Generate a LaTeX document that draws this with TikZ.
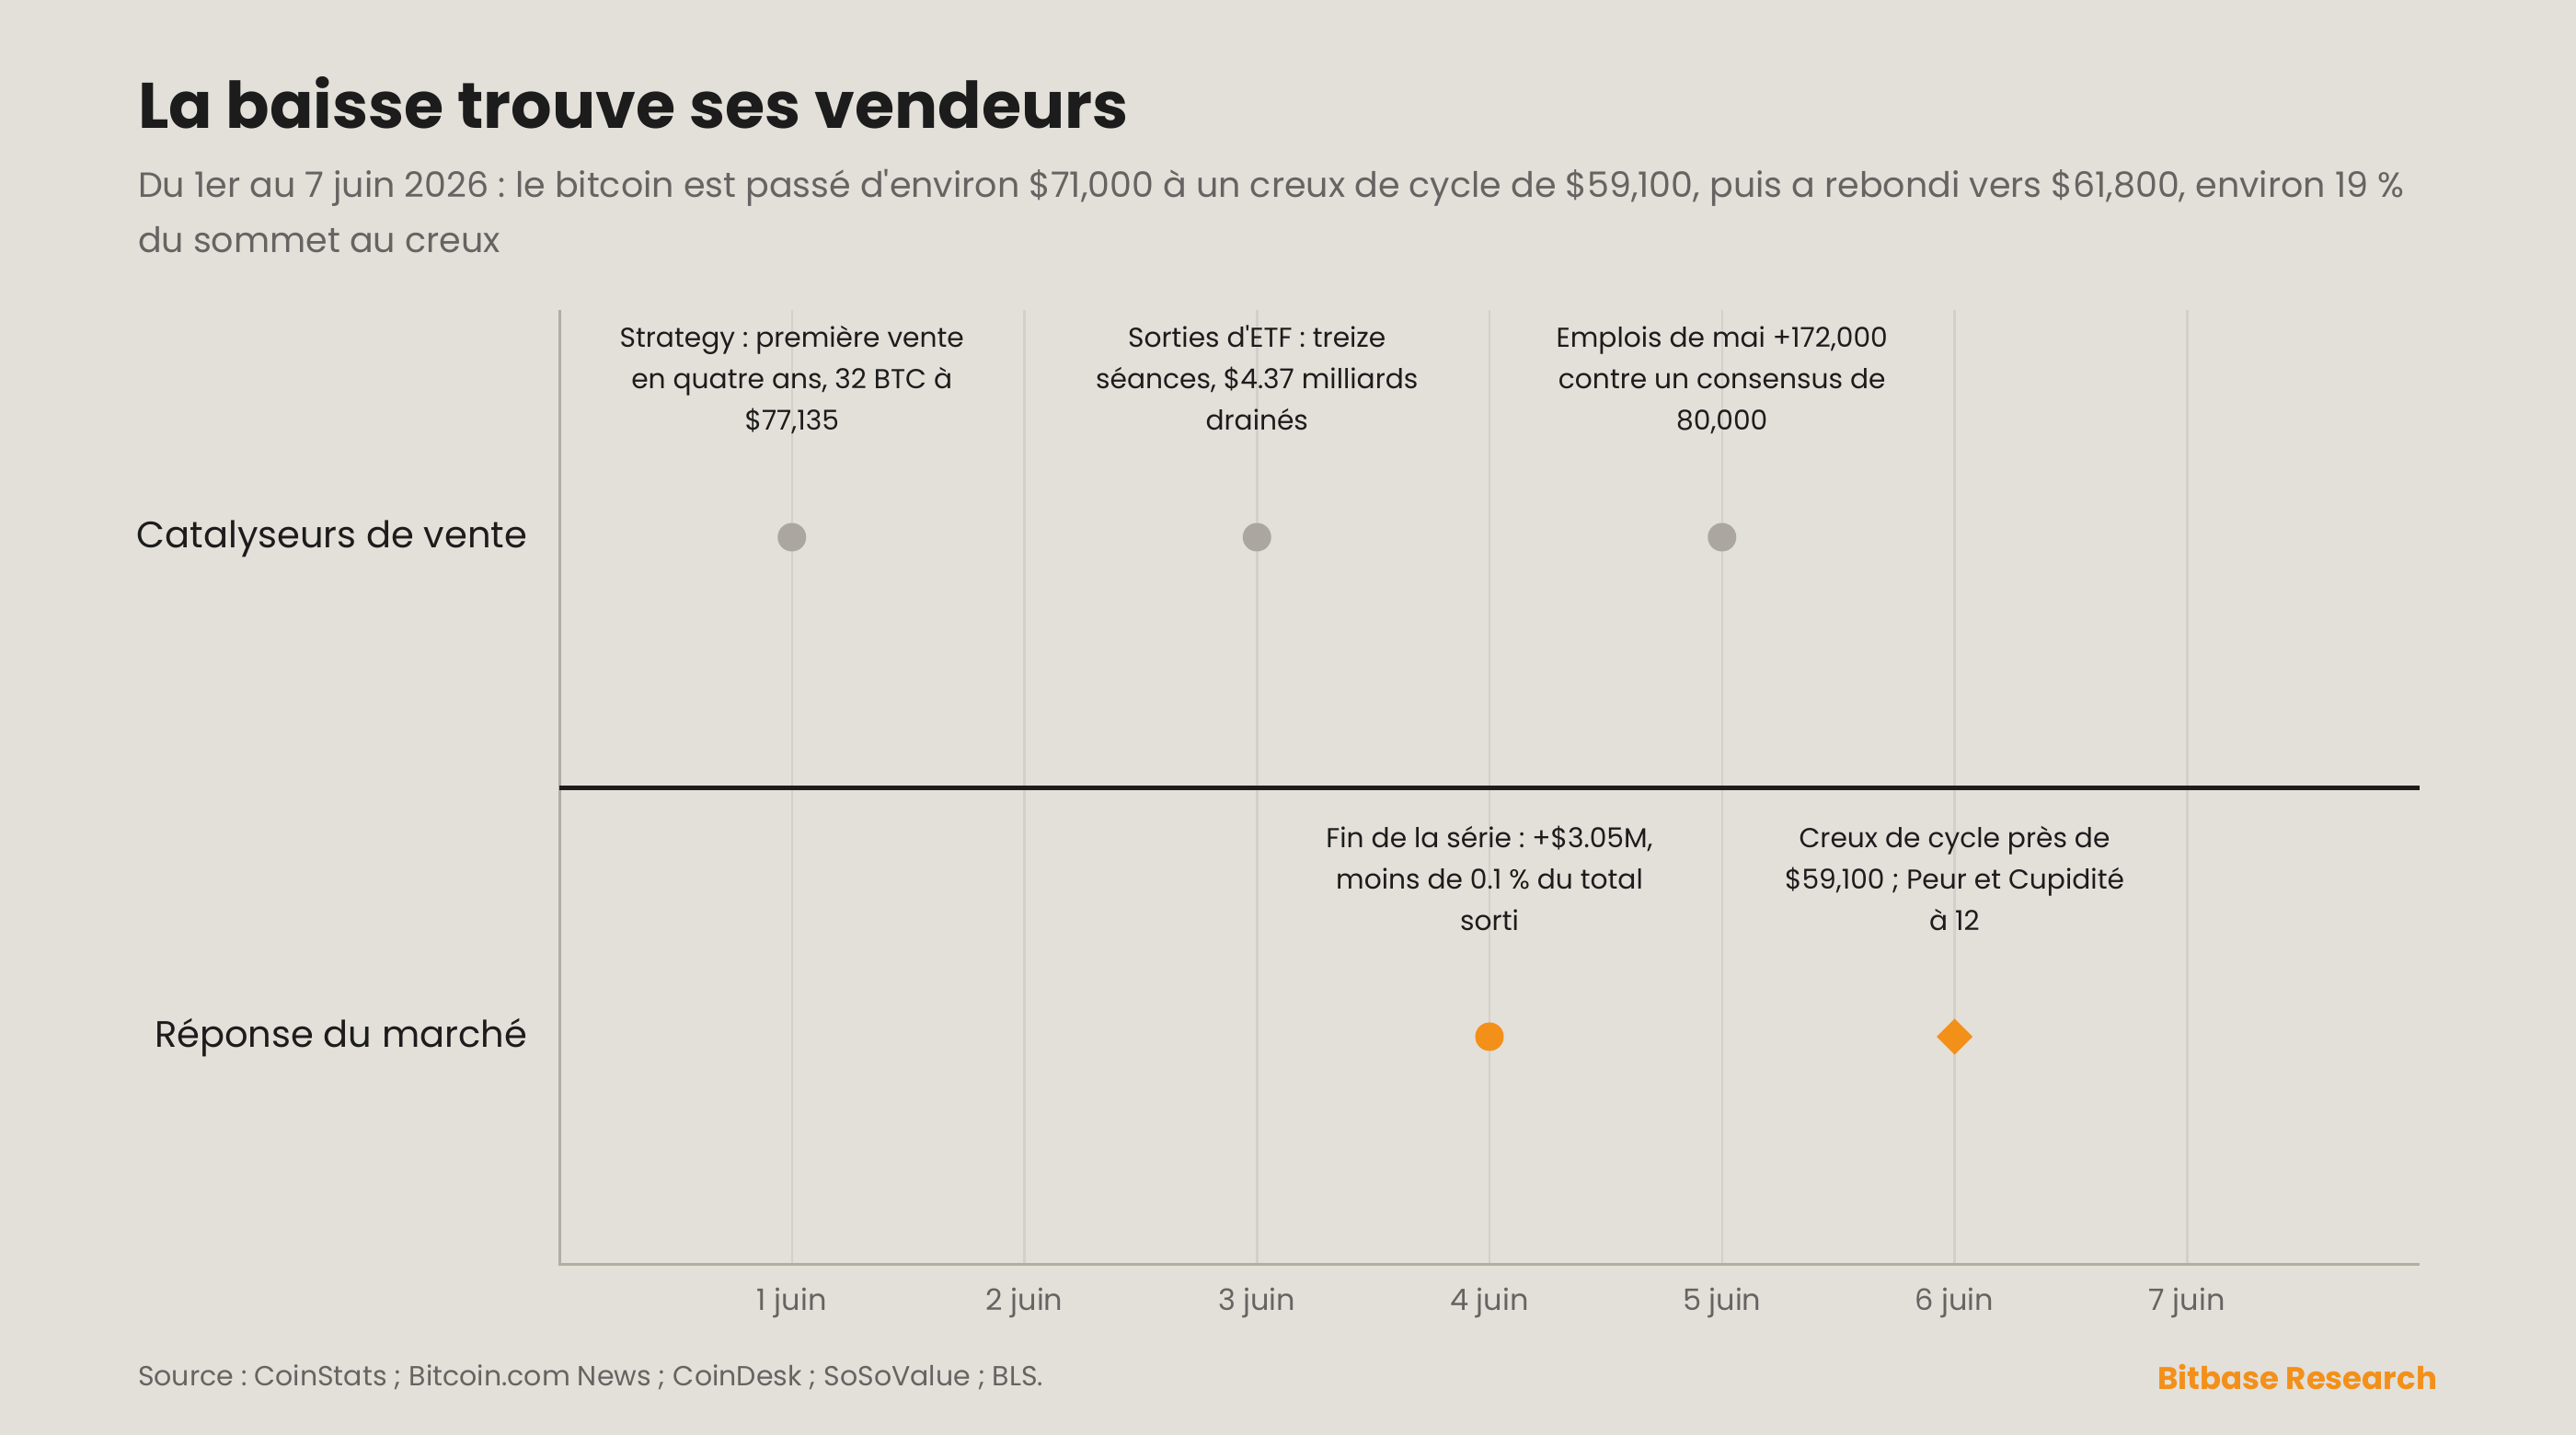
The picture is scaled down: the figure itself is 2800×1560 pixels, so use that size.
\documentclass[tikz,border=0pt]{standalone}
\usepackage{fontspec}
\setmainfont{Poppins}
\frenchspacing
\newcommand*{\titlefont}{\fontsize{70}{84}\selectfont\bfseries}
\newcommand*{\subfont}{\fontsize{38}{60}\selectfont}
\newcommand*{\rowfont}{\fontsize{40}{48}\selectfont}
\newcommand*{\eventfont}{\fontsize{29.7}{45}\selectfont}
\newcommand*{\tickfont}{\fontsize{32}{40}\selectfont}
\newcommand*{\notefont}{\fontsize{30}{38}\selectfont}
\newcommand*{\brandfont}{\fontsize{34}{40}\selectfont\bfseries}
\definecolor{paper}{HTML}{E3DFD9}
\definecolor{ink}{HTML}{1C1C1C}
\definecolor{subgrey}{HTML}{666462}
\definecolor{gridgrey}{HTML}{D4CFC9}
\definecolor{axisgrey}{HTML}{B3ADA3}
\definecolor{dotgrey}{HTML}{ABA6A0}
\definecolor{bitorange}{HTML}{F39019}
\usetikzlibrary{shapes.geometric}
\usetikzlibrary{positioning}
\tikzstyle{chart}=[x=1pt, y=1pt, inner sep=0pt, outer sep=0pt]
\tikzstyle{gridline}=[draw=gridgrey, line width=2.5pt]
\tikzstyle{axisline}=[draw=axisgrey, line width=3pt]
\tikzstyle{rowlabel}=[anchor=base east, text=ink, font=\rowfont]
\tikzstyle{evtext}=[anchor=base, align=center, text=ink, font=\eventfont]
\tikzstyle{ticklabel}=[anchor=base, text=subgrey, font=\tickfont]
\tikzstyle{catdot}=[circle, fill=dotgrey, minimum size=31pt]
\tikzstyle{mktdot}=[circle, fill=bitorange, minimum size=31pt]
\tikzstyle{mktdiamond}=[diamond, fill=bitorange, minimum width=39pt, minimum height=39pt]

\begin{document}
\begin{tikzpicture}[chart]
    \path [use as bounding box] (0,0) rectangle (2800,1560);
    \fill [paper] (0,0) rectangle (2800,1560);
    % heading (multi-line nodes sit on their last baseline)
    \node [anchor=base west, text=ink, font=\titlefont] (title) at (150,1420) {La baisse trouve ses vendeurs};
    \node [anchor=base west, align=left, text=subgrey, font=\subfont] (subtitle) at (150,1285)
        {Du 1er au 7 juin 2026 : le bitcoin est passé d\textquotesingle environ \$71,000 à un creux de cycle de \$59,100, puis a rebondi vers \$61,800, environ 19 \%\\du sommet au creux};
    % days
    \draw [gridline] (860.75,185) -- (860.75,1223);
    \draw [gridline] (1113.5,185) -- (1113.5,1223);
    \draw [gridline] (1366.25,185) -- (1366.25,1223);
    \draw [gridline] (1619,185) -- (1619,1223);
    \draw [gridline] (1871.75,185) -- (1871.75,1223);
    \draw [gridline] (2124.5,185) -- (2124.5,1223);
    \draw [gridline] (2377.25,185) -- (2377.25,1223);
    \draw [axisline] (608,1223) -- (608,185) -- (2630,185);
    \draw [ink, line width=5pt] (608,703.5) -- (2630,703.5);
    \node [ticklabel] (d1) at (860.75,135) {1 juin};
    \node [ticklabel] (d2) at (1113.5,135) {2 juin};
    \node [ticklabel] (d3) at (1366.25,135) {3 juin};
    \node [ticklabel] (d4) at (1619,135) {4 juin};
    \node [ticklabel] (d5) at (1871.75,135) {5 juin};
    \node [ticklabel] (d6) at (2124.5,135) {6 juin};
    \node [ticklabel] (d7) at (2377.25,135) {7 juin};
    % rows
    \node [rowlabel] (catrow) at (573,964) {Catalyseurs de vente};
    \node [rowlabel] (mktrow) at (573,421) {Réponse du marché};
    % sell catalysts
    \node [catdot] (strategy) at (860.75,976) {};
    \node [catdot] (etf) at (1366.25,976) {};
    \node [catdot] (jobs) at (1871.75,976) {};
    \node [evtext] (strategytext) at (860.75,1092) {Strategy : première vente\\en quatre ans, 32 BTC à\\\$77,135};
    \node [evtext] (etftext) at (1366.25,1092) {Sorties d\textquotesingle ETF : treize\\séances, \$4.37 milliards\\drainés};
    \node [evtext] (jobstext) at (1871.75,1092) {Emplois de mai +172,000\\contre un consensus de\\80,000};
    % market response
    \node [mktdot] (streak) at (1619,433) {};
    \node [mktdiamond] (low) at (2124.5,433) {};
    \node [evtext] (streaktext) at (1619,548) {Fin de la série : +\$3.05M,\\moins de 0.1 \% du total\\sorti};
    \node [evtext] (lowtext) at (2124.5,548) {Creux de cycle près de\\\$59,100 ; Peur et Cupidité\\à 12};
    % footer
    \node [anchor=base west, text=subgrey, font=\notefont] (source) at (150,53) {Source : CoinStats ; Bitcoin.com News ; CoinDesk ; SoSoValue ; BLS.};
    \node [anchor=base east, text=bitorange, font=\brandfont] (brand) at (2649,49) {Bitbase Research};
\end{tikzpicture}
\end{document}
